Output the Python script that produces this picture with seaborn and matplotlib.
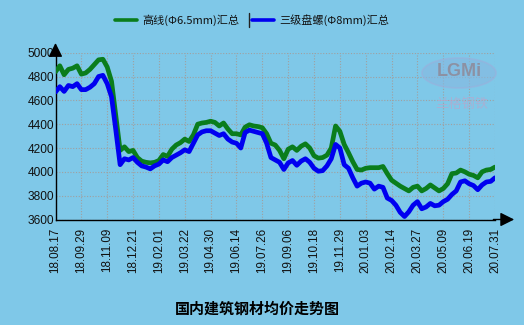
import matplotlib
matplotlib.use("Agg")
import matplotlib.pyplot as plt
from matplotlib.patches import Ellipse
import seaborn as sns
import pandas as pd

# Weekly average prices (yuan/ton), 103 weeks
wire_rod = [4840, 4890, 4815, 4860, 4870, 4890, 4820, 4830, 4860, 4900,
            4940, 4945, 4880, 4760, 4470, 4180, 4210, 4170, 4180, 4120,
            4090, 4080, 4075, 4080, 4095, 4145, 4130, 4190, 4225, 4245,
            4275, 4255, 4310, 4400, 4410, 4415, 4425, 4415, 4385, 4410,
            4360, 4320, 4320, 4310, 4375, 4395, 4385, 4380, 4370, 4320,
            4240, 4225, 4180, 4110, 4190, 4210, 4180, 4215, 4235, 4200,
            4135, 4115, 4120, 4140, 4200, 4385, 4340, 4230, 4160, 4085,
            4020, 4015, 4030, 4035, 4035, 4035, 4045, 3985, 3930, 3905,
            3880, 3860, 3840, 3870, 3880, 3840, 3860, 3890, 3865, 3840,
            3860, 3900, 3985, 3990, 4015, 4000, 3980, 3970, 3950, 4000,
            4015, 4020, 4040]
coil_rebar = [4670, 4715, 4675, 4725, 4715, 4740, 4690, 4690, 4710, 4740,
              4800, 4810, 4740, 4630, 4350, 4060, 4110, 4100, 4120, 4080,
              4050, 4040, 4025, 4050, 4065, 4100, 4085, 4120, 4140, 4160,
              4185, 4170, 4240, 4310, 4335, 4345, 4345, 4325, 4305, 4320,
              4275, 4250, 4240, 4200, 4330, 4350, 4340, 4330, 4320, 4240,
              4120, 4100, 4080, 4020, 4075, 4095, 4055, 4090, 4110, 4080,
              4030, 4005, 4010, 4050, 4110, 4230, 4200, 4060, 4030, 3950,
              3880, 3905, 3915, 3905, 3855, 3880, 3870, 3780, 3760, 3720,
              3660, 3625, 3665, 3720, 3750, 3690, 3705, 3735, 3715, 3720,
              3750, 3770, 3810, 3840, 3915, 3925, 3900, 3885, 3850, 3890,
              3915, 3920, 3950]
tick_labels = ["18.08.17", "18.09.29", "18.11.09", "18.12.21", "19.02.01",
               "19.03.22", "19.04.30", "19.06.14", "19.07.26", "19.09.06",
               "19.10.18", "19.11.29", "20.01.03", "20.02.14", "20.03.27",
               "20.05.09", "20.06.19", "20.07.31"]
series_names = ["高线(Φ6.5mm)汇总", "三级盘螺(Φ8mm)汇总"]
series_colors = ["#0a7d1c", "#0000f0"]
y_ticks = [3600, 3800, 4000, 4200, 4400, 4600, 4800, 5000]

BG = "#7fc8e8"
CJK = ["Noto Sans CJK SC", "DejaVu Sans"]

df = pd.DataFrame({
    "week": list(range(len(wire_rod))) * 2,
    "price": wire_rod + coil_rebar,
    "series": [series_names[0]] * len(wire_rod) + [series_names[1]] * len(coil_rebar),
})

sns.set_theme(style="white")
plt.rcParams["font.family"] = ["Liberation Sans", "Noto Sans CJK SC", "DejaVu Sans"]

W, H = 524, 325
fig = plt.figure(figsize=(W / 100, H / 100), dpi=100, facecolor=BG)
x0, x1, y_top, y_bot = 55.5, 495.0, 52.7, 219.5
ax = fig.add_axes([x0 / W, (H - y_bot) / H, (x1 - x0) / W, (y_bot - y_top) / H])
ax.set_facecolor(BG)

sns.lineplot(data=df, x="week", y="price", hue="series", palette=series_colors,
             linewidth=3.4, ax=ax, legend=False, zorder=3)

n = len(wire_rod)
ax.set_xlim(0, n - 1)
ax.set_ylim(3600, 5000)
ax.set_xticks(range(0, n, 6))
ax.set_xticklabels(tick_labels, rotation=90, fontsize=8.4, color="#111111")
ax.set_yticks(y_ticks)
ax.set_yticklabels([str(v) for v in y_ticks], fontsize=8.6, color="#111111")
ax.set_xlabel("")
ax.set_ylabel("")

ax.grid(True, color="#a0a0a0", linestyle=(0, (1, 1.5)), linewidth=0.8)
ax.set_axisbelow(True)
ax.tick_params(axis="y", direction="in", length=4, width=0.8, color="black", pad=1)
ax.tick_params(axis="x", direction="out", length=3, width=0.8, color="black", pad=3)
for side in ("top", "right"):
    ax.spines[side].set_visible(False)
for side in ("left", "bottom"):
    ax.spines[side].set_color("black")
    ax.spines[side].set_linewidth(1.0)

# Axis arrows
ax.annotate("", xy=(0, 1.075), xytext=(0, 0.98), xycoords="axes fraction",
            arrowprops=dict(arrowstyle="-|>,head_length=0.7,head_width=0.35",
                            color="black", lw=1.0), annotation_clip=False)
ax.annotate("", xy=(1.05, 0), xytext=(0.99, 0), xycoords="axes fraction",
            arrowprops=dict(arrowstyle="-|>,head_length=0.7,head_width=0.35",
                            color="black", lw=1.0), annotation_clip=False)

# Legend drawn at top
ly = 1 - 20 / H
fig.add_artist(plt.Line2D([115 / W, 137 / W], [ly, ly], color=series_colors[0], lw=2.6))
fig.text(142 / W, ly, series_names[0], family=CJK, fontsize=8.0, va="center", color="#111111")
fig.add_artist(plt.Line2D([249 / W, 249 / W], [ly - 7 / H, ly + 7 / H], color="#222222", lw=1.0))
fig.add_artist(plt.Line2D([252 / W, 274 / W], [ly, ly], color=series_colors[1], lw=2.6))
fig.text(279 / W, ly, series_names[1], family=CJK, fontsize=8.0, va="center", color="#111111")

# Watermark logo
ell = Ellipse((459 / W, 1 - 73 / H), 74 / W, 30 / H, transform=fig.transFigure,
              facecolor="#86b8e0", edgecolor="#9ab0dc", alpha=0.6, lw=1.2, zorder=4)
fig.add_artist(ell)
fig.text(459 / W, 1 - 72 / H, "LGMi", fontsize=13, fontweight="bold", color="#8e8a98",
         ha="center", va="center", alpha=0.85, zorder=5)
fig.text(462 / W, 1 - 104 / H, "兰格钢铁", family=CJK, fontsize=9.5, color="#b6a8cc",
         ha="center", va="center", alpha=0.75, zorder=5)

fig.text(257 / W, 1 - 309 / H, "国内建筑钢材均价走势图", family=CJK, fontsize=10.8,
         fontweight="bold", ha="center", va="center", color="black")

fig.savefig("out.png", dpi=100, facecolor=BG)
